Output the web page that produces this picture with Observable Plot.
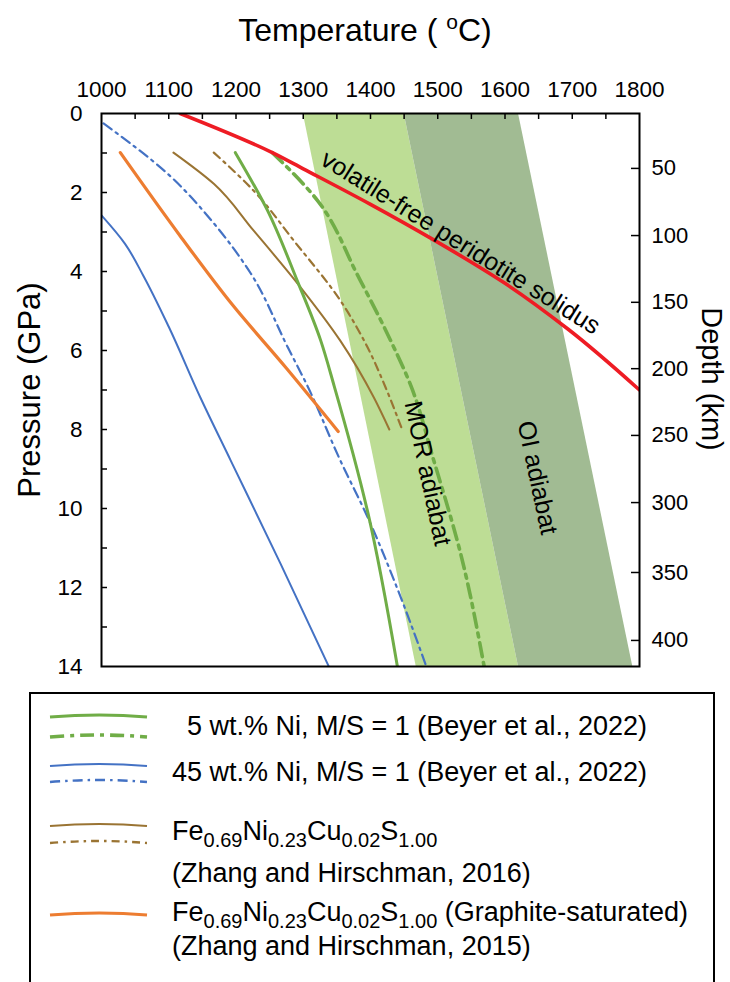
<!DOCTYPE html>
<html>
<head>
<meta charset="utf-8">
<script src="https://cdn.jsdelivr.net/npm/d3@7"></script>
<script src="https://cdn.jsdelivr.net/npm/@observablehq/plot@0.6"></script>
<style>
  html, body { margin: 0; padding: 0; background: #fff; }
  #wrap { position: relative; width: 730px; height: 982px; overflow: hidden; font-family: "Liberation Sans", Arial, sans-serif; color: #000; }
  #chart { position: absolute; left: 0; top: 0; }
  #title { position: absolute; left: 0; width: 730px; top: 11px; text-align: center; font-size: 32px; line-height: 38px; }
  #title sup { font-size: 21px; vertical-align: 12px; line-height: 0; }
  #legend { position: absolute; left: 29px; top: 692px; width: 682px; height: 400px; border: 2px solid #000; }
  .lg { position: absolute; font-size: 27px; line-height: 30px; white-space: nowrap; }
  .lg sub { font-size: 20px; vertical-align: -7px; line-height: 0; }
  .sw { position: absolute; }
</style>
</head>
<body>
<div id="wrap">
  <div id="chart"></div>
  <div id="title">Temperature ( <sup>o</sup>C)</div>
  <div id="legend"></div>
</div>
<script>
// ---------- axis ticks ----------
const tempTicks = [1000, 1100, 1200, 1300, 1400, 1500, 1600, 1700, 1800];
const tempMinorTicks = [1050, 1100, 1150, 1200, 1250, 1300, 1350, 1400, 1450, 1500, 1550, 1600, 1650, 1700, 1750];
const pressureTicks = [0, 2, 4, 6, 8, 10, 12, 14];
const pressureMinorTicks = [1, 2, 3, 4, 5, 6, 7, 8, 9, 10, 11, 12, 13];
const depthLabels = [50, 100, 150, 200, 250, 300, 350, 400];
const depthTickPressure = [1.39, 3.09, 4.78, 6.46, 8.15, 9.85, 11.62, 13.34];

// ---------- adiabat bands (temperature at 0 and 14 GPa) ----------
const bandPressure = [0, 14];
const morLeftT = [1300, 1468];
const morRightT = [1450, 1620];
const oiLeftT = [1450, 1620];
const oiRightT = [1620, 1790];

// ---------- curves ----------
const solidusT = [1117, 1254, 1300, 1400, 1494, 1600, 1693, 1800];
const solidusP = [0, 0.99, 1.4, 2.3, 3.2, 4.3, 5.45, 7.0];

const ni5SolidT = [1199, 1247, 1291, 1326, 1346, 1396, 1440];
const ni5SolidP = [0.99, 2.46, 4.23, 5.75, 6.9, 10.1, 14.0];

const ni5DashT = [1254, 1321, 1381, 1430, 1460, 1494, 1534, 1569];
const ni5DashP = [0.99, 2.2, 4.1, 5.75, 6.89, 8.78, 11.14, 14.0];

const ni45SolidT = [1000, 1035, 1062, 1100, 1147, 1192, 1266, 1338];
const ni45SolidP = [2.58, 3.3, 4.1, 5.4, 7.19, 8.78, 11.39, 14.0];

const ni45DashT = [1003, 1098, 1167, 1222, 1277, 1306, 1355, 1396, 1445, 1483];
const ni45DashP = [0.25, 1.52, 2.78, 4.05, 5.92, 6.89, 8.78, 10.23, 12.25, 14.0];

const zh16SolidT = [1107, 1167, 1226, 1296, 1355, 1405, 1428];
const zh16SolidP = [0.99, 1.78, 2.96, 4.4, 5.75, 7.19, 8.0];

const zh16DashT = [1167, 1226, 1286, 1355, 1395, 1424, 1447];
const zh16DashP = [0.99, 1.95, 3.22, 4.73, 5.9, 7.0, 8.0];

const zh15T = [1028, 1117, 1195, 1275, 1352];
const zh15P = [0.99, 3.1, 4.85, 6.45, 8.05];

// ---------- in-plot labels ----------
const labelTexts = ["volatile-free peridotite solidus", "MOR adiabat", "OI adiabat"];
const labelT = [1534, 1485, 1648];
const labelP = [3.27, 9.11, 9.22];
const labelAngle = [32, 78, 78];

// ---------- legend ----------
const legendLabels = [
  "5 wt.% Ni, M/S = 1 (Beyer et al., 2022)",
  "45 wt.% Ni, M/S = 1 (Beyer et al., 2022)",
  "Fe<sub>0.69</sub>Ni<sub>0.23</sub>Cu<sub>0.02</sub>S<sub>1.00</sub>",
  "(Zhang and Hirschman, 2016)",
  "Fe<sub>0.69</sub>Ni<sub>0.23</sub>Cu<sub>0.02</sub>S<sub>1.00</sub> (Graphite-saturated)",
  "(Zhang and Hirschman, 2015)"
];

const colors = { green: "#70ad47", blue: "#4472c4", brown: "#9a7433", orange: "#ed7d31", red: "#ee1c24" };

const zipTP = (T, P) => T.map((t, i) => ({T: t, P: P[i]}));
const band = (L, R) => bandPressure.map((p, i) => ({P: p, left: L[i], right: R[i]}));
const depthMap = new Map(depthTickPressure.map((p, i) => [p, depthLabels[i]]));
const labels = labelTexts.map((t, i) => ({text: t, T: labelT[i], P: labelP[i], angle: labelAngle[i]}));

const series = [
  {data: zipTP(ni45SolidT, ni45SolidP), stroke: colors.blue, w: 2, dash: null},
  {data: zipTP(ni45DashT, ni45DashP), stroke: colors.blue, w: 2.2, dash: "10,5,2.5,5"},
  {data: zipTP(zh15T, zh15P), stroke: colors.orange, w: 3.2, dash: null},
  {data: zipTP(zh16SolidT, zh16SolidP), stroke: colors.brown, w: 2, dash: null},
  {data: zipTP(zh16DashT, zh16DashP), stroke: colors.brown, w: 2.2, dash: "8,5,2.5,5"},
  {data: zipTP(ni5SolidT, ni5SolidP), stroke: colors.green, w: 3, dash: null},
  {data: zipTP(ni5DashT, ni5DashP), stroke: colors.green, w: 3.6, dash: "14,6,4,6"},
  {data: zipTP(solidusT, solidusP), stroke: colors.red, w: 3.6, dash: null}
];

const W = 730, H = 690, ML = 101, MR = 91, MT = 113, MB = 24;
const frameW = W - ML - MR, frameH = H - MT - MB;

const plot = Plot.plot({
  width: W,
  height: H,
  marginLeft: ML,
  marginRight: MR,
  marginTop: MT,
  marginBottom: MB,
  style: {fontFamily: "'Liberation Sans', Arial, sans-serif", fontSize: "22px", color: "#000", background: "#fff", overflow: "visible"},
  x: {domain: [1000, 1800]},
  y: {domain: [0, 14], reverse: true},
  marks: [
    Plot.areaX(band(morLeftT, morRightT), {y: "P", x1: "left", x2: "right", fill: "#bddd95"}),
    Plot.areaX(band(oiLeftT, oiRightT), {y: "P", x1: "left", x2: "right", fill: "#a1bb93"}),
    ...series.map(s => Plot.line(s.data, {x: "T", y: "P", stroke: s.stroke, strokeWidth: s.w, strokeDasharray: s.dash, curve: "monotone-y", clip: true})),
    Plot.text(labels, {x: "T", y: "P", text: "text", rotate: "angle", fontSize: 25, fill: "#000"}),
    // inward tick marks
    Plot.ruleX(tempMinorTicks, {x: d => d, insetBottom: frameH - 6, stroke: "#000", strokeWidth: 1.5}),
    Plot.ruleY(pressureMinorTicks, {y: d => d, insetRight: frameW - 6, stroke: "#000", strokeWidth: 1.5}),
    Plot.ruleY(depthTickPressure, {y: d => d, insetLeft: frameW - 8, stroke: "#000", strokeWidth: 1.5}),
    Plot.frame({stroke: "#000", strokeWidth: 2}),
    Plot.axisX({anchor: "top", ticks: tempTicks, tickSize: 0, tickPadding: 17, label: null, tickFormat: d => String(d), fontSize: 22.5}),
    Plot.axisY({anchor: "left", ticks: pressureTicks, tickSize: 0, tickPadding: 19, label: null, tickFormat: d => String(d), fontSize: 22.5}),
    Plot.axisY({anchor: "right", ticks: depthTickPressure, tickSize: 0, tickPadding: 12, label: null, tickFormat: d => String(depthMap.get(d)), fontSize: 22}),
    Plot.text(["Pressure (GPa)"], {frameAnchor: "left", textAnchor: "middle", dx: -71, rotate: -90, fontSize: 31}),
    Plot.text(["Depth (km)"], {frameAnchor: "right", textAnchor: "middle", dx: 72, dy: -11, rotate: 90, fontSize: 29})
  ]
});
document.getElementById("chart").appendChild(plot);

// ---------- legend (HTML) ----------
const wrap = document.getElementById("wrap");
const legendSwatches = [
  {y: 716, color: colors.green, w: 3.2, dash: null},
  {y: 736, color: colors.green, w: 3.6, dash: "14,6,4,6"},
  {y: 765, color: colors.blue, w: 2.2, dash: null},
  {y: 781, color: colors.blue, w: 2.4, dash: "10,5,2.5,5"},
  {y: 825, color: colors.brown, w: 2.2, dash: null},
  {y: 842, color: colors.brown, w: 2.4, dash: "8,5,2.5,5"},
  {y: 914, color: colors.orange, w: 3, dash: null}
];
const legendTextPos = [
  {x: 187, y: 726}, {x: 172, y: 772}, {x: 172, y: 831}, {x: 172, y: 873}, {x: 172, y: 912}, {x: 172, y: 946}
];
legendSwatches.forEach(s => {
  const svg = d3.create("svg").attr("class", "sw").attr("width", 110).attr("height", 12)
    .style("left", "45px").style("top", (s.y - 6) + "px");
  svg.append("path").attr("d", "M5,7 Q55,3 102,7").attr("fill", "none")
    .attr("stroke", s.color).attr("stroke-width", s.w).attr("stroke-dasharray", s.dash);
  wrap.appendChild(svg.node());
});
legendLabels.forEach((t, i) => {
  const d = document.createElement("div");
  d.className = "lg";
  d.style.left = legendTextPos[i].x + "px";
  d.style.top = (legendTextPos[i].y - 15) + "px";
  d.innerHTML = t;
  wrap.appendChild(d);
});
</script>
</body>
</html>
